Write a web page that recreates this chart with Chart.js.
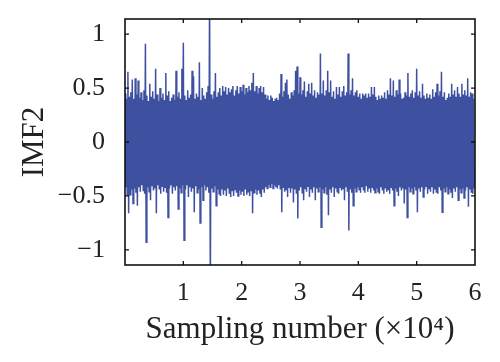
<!DOCTYPE html>
<html>
<head>
<meta charset="utf-8">
<script src="https://cdn.jsdelivr.net/npm/chart.js@4/dist/chart.umd.min.js"></script>
<style>
html,body{margin:0;padding:0;background:#fff;}
#wrap{width:500px;height:362px;position:relative;}
</style>
</head>
<body>
<div id="wrap"><canvas id="c"></canvas></div>
<script>
// Sampling positions (x10^4) step between envelope readings
const sampleStep = 0.025;
// Upper (positive) peak readings, one per step
const upperPeaks = [
 0.45,0.40,0.65,0.42,0.46,0.58,0.40,0.59,0.44,0.57, 0.41,0.46,0.39,0.48,0.91,0.43,0.38,0.54,0.42,0.47,
 0.40,0.68,0.44,0.38,0.50,0.41,0.45,0.39,0.64,0.43, 0.47,0.38,0.41,0.44,0.39,0.66,0.42,0.46,0.40,0.68,
 0.92,0.43,0.39,0.48,0.41,0.44,0.66,0.61,0.40,0.45, 0.42,0.74,0.39,0.50,0.43,0.40,0.46,0.52,1.40,0.44,
 0.40,0.47,0.64,0.42,0.46,0.50,0.43,0.52,0.47,0.51, 0.44,0.50,0.46,0.49,0.52,0.43,0.48,0.52,0.45,0.51,
 0.47,0.53,0.44,0.50,0.46,0.52,0.48,0.55,0.64,0.47, 0.52,0.45,0.50,0.52,0.46,0.51,0.44,0.40,0.43,0.39,
 0.43,0.41,0.38,0.40,0.41,0.39,0.45,0.63,0.42,0.47, 0.55,0.58,0.44,0.40,0.46,0.43,0.48,0.66,0.70,0.45,
 0.60,0.44,0.48,0.56,0.42,0.47,0.54,0.45,0.55,0.43, 0.48,0.41,0.46,0.44,0.82,0.45,0.57,0.43,0.48,0.66,
 0.46,0.57,0.42,0.47,0.40,0.51,0.44,0.51,0.42,0.47, 0.52,0.43,0.46,0.82,0.44,0.48,0.59,0.43,0.46,0.48,
 0.42,0.45,0.40,0.45,0.43,0.45,0.41,0.45,0.42,0.51, 0.44,0.51,0.42,0.39,0.43,0.40,0.43,0.41,0.46,0.40,
 0.48,0.44,0.59,0.43,0.57,0.42,0.48,0.44,0.58,0.45, 0.40,0.41,0.46,0.43,0.64,0.42,0.45,0.48,0.41,0.46,
 0.68,0.43,0.47,0.41,0.54,0.43,0.40,0.45,0.41,0.44, 0.40,0.49,0.42,0.46,0.54,0.43,0.47,0.65,0.42,0.46,
 0.39,0.41,0.45,0.42,0.54,0.44,0.48,0.42,0.51,0.45, 0.42,0.54,0.44,0.48,0.43,0.59,0.42,0.46,0.45,0.40
];
// Lower (negative) peak readings, one per step
const lowerPeaks = [
 -0.42,-0.49,-0.66,-0.49,-0.44,-0.57,-0.43,-0.47,-0.59,-0.42, -0.46,-0.40,-0.45,-0.48,-0.93,-0.42,-0.46,-0.54,-0.41,-0.45,
 -0.43,-0.66,-0.40,-0.44,-0.48,-0.41,-0.46,-0.42,-0.47,-0.70, -0.43,-0.40,-0.48,-0.42,-0.45,-0.41,-0.62,-0.43,-0.47,-0.40,
 -0.91,-0.44,-0.40,-0.51,-0.42,-0.46,-0.43,-0.65,-0.41,-0.47, -0.44,-0.75,-0.42,-0.54,-0.40,-0.45,-0.42,-0.47,-1.40,-0.43,
 -0.46,-0.41,-0.59,-0.44,-0.48,-0.50,-0.44,-0.49,-0.45,-0.50, -0.43,-0.48,-0.51,-0.45,-0.50,-0.44,-0.47,-0.50,-0.45,-0.49,
 -0.46,-0.50,-0.44,-0.49,-0.46,-0.50,-0.45,-0.66,-0.47,-0.44, -0.49,-0.45,-0.48,-0.51,-0.44,-0.47,-0.42,-0.43,-0.40,-0.42,
 -0.39,-0.43,-0.40,-0.42,-0.43,-0.40,-0.44,-0.65,-0.42,-0.46, -0.44,-0.51,-0.42,-0.47,-0.43,-0.56,-0.44,-0.48,-0.71,-0.45,
 -0.42,-0.47,-0.54,-0.43,-0.46,-0.41,-0.51,-0.44,-0.47,-0.42, -0.54,-0.43,-0.46,-0.42,-0.79,-0.44,-0.47,-0.42,-0.49,-0.68,
 -0.44,-0.47,-0.42,-0.51,-0.43,-0.46,-0.48,-0.42,-0.45,-0.43, -0.54,-0.42,-0.46,-0.82,-0.44,-0.47,-0.59,-0.43,-0.46,-0.42,
 -0.44,-0.47,-0.42,-0.45,-0.47,-0.41,-0.46,-0.43,-0.47,-0.42, -0.45,-0.47,-0.43,-0.46,-0.48,-0.42,-0.45,-0.48,-0.43,-0.46,
 -0.44,-0.48,-0.42,-0.45,-0.59,-0.43,-0.46,-0.50,-0.42,-0.45, -0.43,-0.57,-0.44,-0.70,-0.42,-0.46,-0.43,-0.48,-0.42,-0.45,
 -0.65,-0.43,-0.46,-0.42,-0.51,-0.44,-0.41,-0.48,-0.43,-0.46, -0.42,-0.48,-0.44,-0.47,-0.48,-0.42,-0.45,-0.65,-0.43,-0.46,
 -0.42,-0.48,-0.44,-0.47,-0.52,-0.43,-0.46,-0.42,-0.54,-0.44, -0.47,-0.43,-0.52,-0.45,-0.42,-0.60,-0.44,-0.47,-0.48,-0.43
];
const xTicks = [0,1,2,3,4,5,6];
const yTicks = [-1,-0.5,0,0.5,1];
const xMin = 0, xMax = 6, yMin = -1.14, yMax = 1.14;

const points = [];
for (let i = 0; i < upperPeaks.length; i++) {
  points.push({x: i * sampleStep, y: upperPeaks[i]});
  points.push({x: i * sampleStep + sampleStep / 2, y: lowerPeaks[i]});
}

const serif = "'Liberation Serif','DejaVu Serif',serif";
const fmt = v => {
  if (v === 0) return '0';
  const s = String(Math.abs(v));
  return v < 0 ? '\u2212' + s : s;
};

const framePlugin = {
  id: 'frame',
  afterDatasetsDraw(chart) {
    const {ctx, chartArea: a, scales} = chart;
    ctx.save();
    ctx.strokeStyle = '#111';
    ctx.lineWidth = 1.6;
    ctx.strokeRect(a.left, a.top, a.right - a.left, a.bottom - a.top);
    ctx.lineWidth = 1.3;
    const tl = 4;
    ctx.beginPath();
    scales.x.ticks.forEach(t => {
      const px = scales.x.getPixelForValue(t.value);
      if (px <= a.left + 1 || px >= a.right - 1) return;
      ctx.moveTo(px, a.bottom); ctx.lineTo(px, a.bottom - tl);
      ctx.moveTo(px, a.top); ctx.lineTo(px, a.top + tl);
    });
    scales.y.ticks.forEach(t => {
      const py = scales.y.getPixelForValue(t.value);
      ctx.moveTo(a.left, py); ctx.lineTo(a.left + tl, py);
      ctx.moveTo(a.right, py); ctx.lineTo(a.right - tl, py);
    });
    ctx.stroke();
    ctx.restore();
  }
};

new Chart(document.getElementById('c'), {
  type: 'line',
  data: {
    datasets: [{
      data: points,
      borderColor: 'rgb(62,80,160)',
      borderWidth: 1.5,
      pointRadius: 0,
      tension: 0,
      clip: 0
    }]
  },
  options: {
    responsive: true,
    maintainAspectRatio: false,
    animation: false,
    events: [],
    layout: {padding: {top: 19, right: 25, left: 0, bottom: 0}},
    plugins: {legend: {display: false}, tooltip: {enabled: false}},
    scales: {
      x: {
        type: 'linear', min: xMin, max: xMax,
        afterBuildTicks: s => { s.ticks = xTicks.map(v => ({value: v})); },
        afterFit: s => { s.height = 97; s.paddingLeft = 0; s.paddingRight = 0; },
        grid: {display: false, drawTicks: false},
        border: {display: false},
        ticks: {
          color: '#222', padding: 13, maxRotation: 0, autoSkip: false,
          font: {family: serif, size: 26},
          callback: v => v === 0 ? '' : String(v)
        },
        title: {
          display: true, text: 'Sampling number (\u00d710\u2074)', color: '#222',
          font: {family: serif, size: 31}, padding: {top: 0, bottom: 14}
        }
      },
      y: {
        type: 'linear', min: yMin, max: yMax,
        afterBuildTicks: s => { s.ticks = yTicks.map(v => ({value: v})); },
        afterFit: s => { s.width = 125; s.paddingTop = 0; s.paddingBottom = 0; },
        grid: {display: false, drawTicks: false},
        border: {display: false},
        ticks: {
          color: '#222', padding: 20, autoSkip: false,
          font: {family: serif, size: 26},
          callback: v => fmt(v)
        },
        title: {
          display: true, text: 'IMF2', color: '#222',
          font: {family: serif, size: 31}, padding: {top: 16, bottom: 0}
        }
      }
    }
  },
  plugins: [framePlugin]
});
</script>
</body>
</html>
